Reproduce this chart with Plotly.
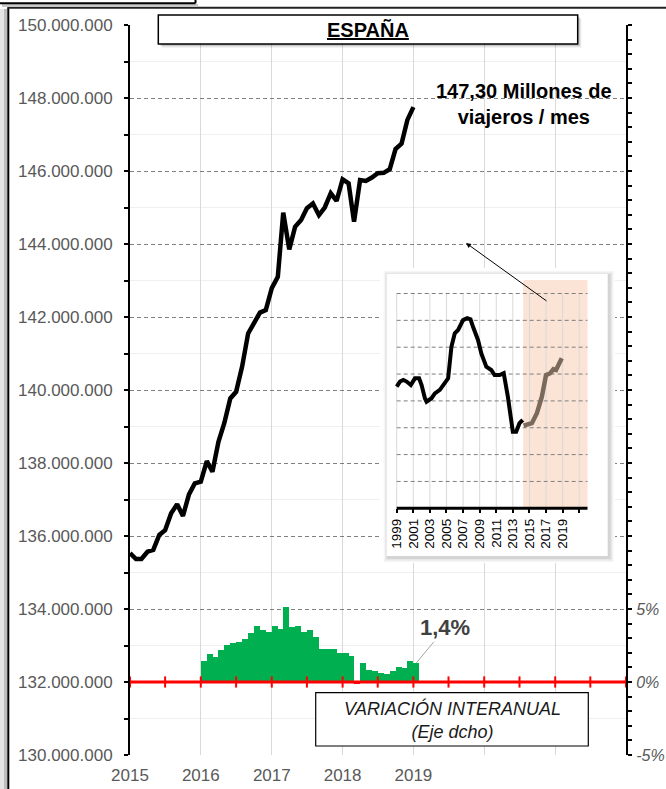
import plotly.graph_objects as go
import pandas as pd

# ------------------------------------------------------------------ data
MONTHS_LINE = pd.date_range("2015-01-01", "2019-01-01", freq="MS").strftime("%Y-%m-%d").tolist()
VIAJEROS_MILLONES = [
    135.53, 135.37, 135.37, 135.57, 135.62, 136.03, 136.16, 136.62, 136.87, 136.55, 137.14, 137.44,
    137.49, 138.05, 137.76, 138.58, 139.09, 139.77, 139.95, 140.64, 141.55, 141.83, 142.12, 142.19,
    142.79, 143.10, 144.86, 143.85, 144.47, 144.66, 144.98, 145.11, 144.79, 145.00, 145.39, 145.18,
    145.77, 145.66, 144.61, 145.75, 145.73, 145.82, 145.94, 145.95, 146.05, 146.60, 146.75, 147.40,
    147.75,
]

MONTHS_BARS = pd.date_range("2016-01-01", "2019-01-01", freq="MS").strftime("%Y-%m-%d").tolist()
VARIACION_PCT = [
    1.43, 1.95, 1.70, 2.18, 2.53, 2.69, 2.71, 2.92, 3.38, 3.84, 3.56, 3.45,
    3.84, 3.63, 5.13, 3.75, 3.84, 3.45, 3.56, 3.10, 2.23, 2.23, 2.23, 2.02,
    2.02, 1.77, -0.17, 1.29, 0.80, 0.76, 0.64, 0.53, 0.78, 1.06, 0.97, 1.47,
    1.31,
]

X_TICK_DATES = ["2015-01-01", "2016-01-01", "2017-01-01", "2018-01-01", "2019-01-01",
                "2020-01-01", "2021-01-01", "2022-01-01"]
X_TICK_LABELS = ["2015", "2016", "2017", "2018", "2019", "", "", ""]

Y_TICK_VALUES = [130, 132, 134, 136, 138, 140, 142, 144, 146, 148, 150]
Y_TICK_LABELS = ["130.000.000", "132.000.000", "134.000.000", "136.000.000", "138.000.000",
                 "140.000.000", "142.000.000", "144.000.000", "146.000.000", "148.000.000",
                 "150.000.000"]
Y_MINOR_TICK_VALUES = [131, 133, 135, 137, 139, 141, 143, 145, 147, 149]

Y2_TICK_VALUES = [-5, 0, 5]
Y2_TICK_LABELS = ["-5%", "0%", "5%"]

ZERO_LINE_DATES = ["2015-01-01", "2015-07-01", "2016-01-01", "2016-07-01", "2017-01-01",
                   "2017-07-01", "2018-01-01", "2018-07-01", "2019-01-01", "2019-07-01",
                   "2020-01-01", "2020-07-01", "2021-01-01", "2021-07-01", "2022-01-01"]
ZERO_LINE_VALUES = [0] * len(ZERO_LINE_DATES)

# inset (long series, arbitrary units)
INSET_HIST_YEARS = [1999.0, 1999.4, 1999.8, 2000.2, 2000.7, 2001.2, 2001.7, 2002.0, 2002.4, 2002.6,
                    2003.2, 2003.6, 2004.2, 2004.6, 2005.2, 2005.6, 2006.0, 2006.4, 2007.0, 2007.5,
                    2007.9, 2008.2, 2008.8, 2009.2, 2009.8, 2010.4, 2010.8, 2011.4, 2011.9, 2012.4,
                    2012.8, 2013.0, 2013.4, 2013.8, 2014.2]
INSET_HIST_LEVEL = [4.53, 4.72, 4.78, 4.72, 4.59, 4.84, 4.84, 4.59, 4.10, 3.97,
                    4.10, 4.28, 4.41, 4.59, 4.84, 6.02, 6.52, 6.64, 7.01, 7.08,
                    7.04, 6.76, 6.27, 5.77, 5.27, 5.15, 4.96, 4.96, 5.03, 4.16,
                    3.17, 2.85, 2.85, 3.17, 3.29]
INSET_RECENT_YEARS = [2014.3, 2014.7, 2015.3, 2015.9, 2016.5, 2017.0, 2017.5, 2017.9, 2018.2,
                      2018.5, 2018.9]
INSET_RECENT_LEVEL = [3.08, 3.10, 3.17, 3.54, 4.16, 4.96, 5.03, 5.18, 5.15, 5.34, 5.59]
INSET_TICK_YEARS = [1999, 2001, 2003, 2005, 2007, 2009, 2011, 2013, 2015, 2017, 2019, 2021]
INSET_TICK_LABELS = ["1999", "2001", "2003", "2005", "2007", "2009", "2011", "2013", "2015",
                     "2017", "2019", ""]
INSET_GRID_LEVELS = [1, 2, 3, 4, 5, 6, 7, 8]
INSET_SHADE_FROM = 2014.25
INSET_YEAR_RANGE = [1999, 2022]

# ------------------------------------------------------------------ geometry helpers
W, H = 666, 789
ML, MR, MT, MB = 130, 40, 25, 34
PW, PH = W - ML - MR, H - MT - MB


def px(x):
    return (x - ML) / PW


def py(y):
    return (H - MB - y) / PH


# inset pixel geometry
IN_X0, IN_X1 = 396.7, 587.5          # pixel of 1999 and 2022
IN_Y0, IN_LV = 508.3, 26.85          # pixel of level 0, pixels per level


def ix(x):
    return INSET_YEAR_RANGE[0] + (x - IN_X0) * (INSET_YEAR_RANGE[1] - INSET_YEAR_RANGE[0]) / (IN_X1 - IN_X0)


def iy(y):
    return (IN_Y0 - y) / IN_LV


IN_DOM = (380, 268, 615, 563)        # left, top, right, bottom (pixels)
IN_BOX = (386.7, 274, 607.7, 556)

FONT = "Liberation Sans, Arial, sans-serif"
GRAY_TXT = "#595959"
GREEN = "#00B050"
RED = "#FF0000"
MONTH_MS = 31 * 24 * 3600 * 1000

fig = go.Figure()

bar_colors = [GREEN if v >= 0 else RED for v in VARIACION_PCT]
fig.add_trace(go.Bar(
    x=MONTHS_BARS, y=VARIACION_PCT, yaxis="y2", xaxis="x",
    xperiod="M1", xperiodalignment="middle", width=MONTH_MS,
    marker=dict(color=bar_colors, line=dict(width=0)),
    hoverinfo="skip",
))
fig.add_trace(go.Scatter(
    x=ZERO_LINE_DATES, y=ZERO_LINE_VALUES, yaxis="y2", xaxis="x",
    mode="lines+markers", cliponaxis=False,
    line=dict(color=RED, width=3),
    marker=dict(symbol="line-ns", size=8, color=RED, line=dict(color=RED, width=2)),
    hoverinfo="skip",
))
fig.add_trace(go.Scatter(
    x=MONTHS_LINE, y=VIAJEROS_MILLONES, yaxis="y", xaxis="x",
    mode="lines", line=dict(color="black", width=4.5),
))
fig.add_trace(go.Scatter(
    x=INSET_HIST_YEARS, y=INSET_HIST_LEVEL, xaxis="x2", yaxis="y5",
    mode="lines", line=dict(color="black", width=4),
))
fig.add_trace(go.Scatter(
    x=INSET_RECENT_YEARS, y=INSET_RECENT_LEVEL, xaxis="x2", yaxis="y5",
    mode="lines", line=dict(color="#7B6A5C", width=4.5),
))

shapes = []
# outer frame pieces (paper, below everything)
shapes += [
    dict(type="rect", xref="paper", yref="paper", x0=px(0), x1=px(4), y0=py(800), y1=py(9),
         fillcolor="#E4E4E4", line=dict(width=0), layer="below"),
    dict(type="rect", xref="paper", yref="paper", x0=px(4), x1=px(7.3), y0=py(800), y1=py(9),
         fillcolor="#BDBDBD", line=dict(width=0), layer="below"),
    dict(type="line", xref="paper", yref="paper", x0=px(8.3), x1=px(8.3), y0=py(800), y1=py(7.5),
         line=dict(color="black", width=2), layer="below"),
    dict(type="line", xref="paper", yref="paper", x0=px(7.5), x1=px(700), y0=py(7.7), y1=py(7.7),
         line=dict(color="#222222", width=2), layer="below"),
    dict(type="rect", xref="paper", yref="paper", x0=px(2), x1=px(198), y0=py(7), y1=py(4),
         fillcolor="#C8C8C8", line=dict(width=0), layer="below"),
    dict(type="line", xref="paper", yref="paper", x0=px(-2), x1=px(195.5), y0=py(3.3), y1=py(3.3),
         line=dict(color="black", width=2), layer="below"),
    dict(type="line", xref="paper", yref="paper", x0=px(195.5), x1=px(195.5), y0=py(-5), y1=py(3.3),
         line=dict(color="black", width=2), layer="below"),
]

# inset box with soft shadow (in inset axes, drawn above the main subplot)
L0, T0, R0, B0 = IN_BOX
for e, a in [(4.5, 0.04), (3, 0.06), (1.5, 0.08)]:
    shapes.append(dict(type="rect", xref="x2", yref="y5", layer="below",
                       x0=ix(L0 - e + 1.5), x1=ix(R0 + e + 1.5), y0=iy(B0 + e + 1.5), y1=iy(T0 - e + 1.5),
                       fillcolor=f"rgba(0,0,0,{a})", line=dict(width=0)))
shapes.append(dict(type="rect", xref="x2", yref="y5", layer="below",
                   x0=ix(L0), x1=ix(R0), y0=iy(B0), y1=iy(T0),
                   fillcolor="white", line=dict(width=0)))
shapes.append(dict(type="rect", xref="x2", yref="y5", layer="below",
                   x0=INSET_SHADE_FROM, x1=INSET_YEAR_RANGE[1], y0=0, y1=iy(280),
                   fillcolor="#FBE4D5", line=dict(width=0)))
for yr in INSET_TICK_YEARS:
    shapes.append(dict(type="line", xref="x2", yref="y5", layer="below",
                       x0=yr, x1=yr, y0=0, y1=INSET_GRID_LEVELS[-1],
                       line=dict(color="#D9D9D9", width=1)))
for lv in INSET_GRID_LEVELS:
    shapes.append(dict(type="line", xref="x2", yref="y5", layer="below",
                       x0=INSET_YEAR_RANGE[0], x1=INSET_YEAR_RANGE[1], y0=lv, y1=lv,
                       line=dict(color="#7F7F7F", width=1, dash="4px,3px")))
shapes.append(dict(type="line", xref="x2", yref="y5", layer="below",
                   x0=INSET_YEAR_RANGE[0], x1=INSET_YEAR_RANGE[1], y0=0, y1=0,
                   line=dict(color="black", width=3)))

# title box (above)
for e, a in [(3.5, 0.10), (2, 0.14)]:
    shapes.append(dict(type="rect", xref="paper", yref="paper", layer="above",
                       x0=px(158.3 + e), x1=px(577.7 + e), y0=py(44 + e), y1=py(15 + e),
                       fillcolor=f"rgba(0,0,0,{a})", line=dict(width=0)))
shapes.append(dict(type="rect", xref="paper", yref="paper", layer="above",
                   x0=px(158.3), x1=px(577.7), y0=py(44), y1=py(15),
                   fillcolor="white", line=dict(color="black", width=1.5)))
# variation box
shapes.append(dict(type="rect", xref="paper", yref="paper", layer="above",
                   x0=px(315.7), x1=px(588.3), y0=py(746), y1=py(692.7),
                   fillcolor="white", line=dict(color="black", width=1.2)))

annotations = [
    dict(xref="paper", yref="paper", x=px(368.3), y=py(30), xanchor="center", yanchor="middle",
         text="<b><u>ESPAÑA</u></b>", showarrow=False, font=dict(size=20, color="black", family=FONT)),
    dict(xref="paper", yref="paper", x=px(524), y=py(104), xanchor="center", yanchor="middle",
         text="<b>147,30 Millones de<br>viajeros / mes</b>", showarrow=False, align="center",
         font=dict(size=20, color="black", family=FONT)),
    dict(xref="paper", yref="paper", x=px(466), y=py(243), ax=82, ay=59, text="",
         showarrow=True, arrowhead=2, arrowsize=1, arrowwidth=1, arrowcolor="black"),
    dict(xref="x", yref="y2", x=MONTHS_BARS[-1], y=VARIACION_PCT[-1], xshift=3,
         text="<b>1,4%</b>", showarrow=True, arrowhead=0, arrowwidth=1, arrowcolor="#A6A6A6",
         ax=29, ay=-35, font=dict(size=22, color="#404040", family=FONT)),
    dict(xref="paper", yref="paper", x=px(452), y=py(720), xanchor="center", yanchor="middle",
         text="<i>VARIACIÓN INTERANUAL</i><br><i>(Eje dcho)</i>", showarrow=False, align="center",
         font=dict(size=18, color="#1A1A1A", family=FONT)),
]

fig.update_layout(
    width=W, height=H, autosize=False,
    margin=dict(l=ML, r=MR, t=MT, b=MB, pad=0, autoexpand=False),
    paper_bgcolor="white", plot_bgcolor="white",
    showlegend=False, bargap=0,
    font=dict(family=FONT, size=17, color=GRAY_TXT),
    shapes=shapes, annotations=annotations,
    xaxis=dict(
        type="date", range=[X_TICK_DATES[0], X_TICK_DATES[-1]], domain=[0, 1], anchor="y",
        tickmode="array", tickvals=X_TICK_DATES, ticktext=X_TICK_LABELS, automargin=False,
        showgrid=True, gridcolor="#D9D9D9", gridwidth=1, ticks="", showline=False, zeroline=False,
        tickfont=dict(size=17, color=GRAY_TXT), ticklabelstandoff=8,
    ),
    yaxis=dict(
        range=[Y_TICK_VALUES[0], Y_TICK_VALUES[-1]], domain=[0, 1], anchor="x", automargin=False,
        tickmode="array", tickvals=Y_TICK_VALUES, ticktext=Y_TICK_LABELS,
        ticks="outside", ticklen=4, tickwidth=1.5, tickcolor="black",
        showline=True, linecolor="black", linewidth=2, zeroline=False,
        showgrid=True, gridcolor="#808080", gridwidth=1, griddash="4px,3px",
        minor=dict(tickmode="array", tickvals=Y_MINOR_TICK_VALUES, ticks="outside", ticklen=4,
                   tickwidth=1.5, tickcolor="black", showgrid=True, gridcolor="#EFEFEF",
                   griddash="solid", gridwidth=1),
        tickfont=dict(size=17, color=GRAY_TXT), ticklabelstandoff=8,
    ),
    yaxis3=dict(
        overlaying="y", side="left", anchor="x", range=[Y_TICK_VALUES[0], Y_TICK_VALUES[-1]],
        tickmode="array", tickvals=sorted(Y_TICK_VALUES + Y_MINOR_TICK_VALUES), automargin=False,
        ticks="inside", ticklen=4, tickwidth=1.5, tickcolor="black",
        showticklabels=False, showgrid=False, zeroline=False, showline=False,
    ),
    yaxis2=dict(
        overlaying="y", side="right", anchor="x", range=[-5, 45], automargin=False,
        tickmode="array", tickvals=Y2_TICK_VALUES, ticktext=Y2_TICK_LABELS,
        ticks="outside", ticklen=4, tickwidth=1.5, tickcolor="black",
        showline=True, linecolor="black", linewidth=2, showgrid=False, zeroline=False,
        minor=dict(tickmode="array", tickvals=[v for v in range(-5, 46) if v not in Y2_TICK_VALUES],
                   ticks="outside", ticklen=4, tickwidth=1.5, tickcolor="black", showgrid=False),
        tickfont=dict(size=16, color=GRAY_TXT, style="italic"), ticklabelstandoff=1,
    ),
    yaxis4=dict(
        overlaying="y", side="right", anchor="x", range=[-5, 45], automargin=False,
        tickmode="array", tickvals=list(range(-5, 46)),
        ticks="inside", ticklen=4, tickwidth=1.5, tickcolor="black",
        showticklabels=False, showgrid=False, zeroline=False, showline=False,
    ),
    xaxis2=dict(
        domain=[px(IN_DOM[0]), px(IN_DOM[2])], range=[ix(IN_DOM[0]), ix(IN_DOM[2])],
        anchor="free", position=py(IN_Y0), automargin=False,
        tickmode="array", tickvals=INSET_TICK_YEARS, ticktext=INSET_TICK_LABELS,
        ticks="outside", ticklen=4, tickwidth=2, tickcolor="black", tickangle=-90,
        showgrid=False, showline=False, zeroline=False,
        tickfont=dict(size=13.5, color="black"),
    ),
    yaxis5=dict(
        domain=[py(IN_DOM[3]), py(IN_DOM[1])], range=[iy(IN_DOM[3]), iy(IN_DOM[1])],
        anchor="x2", visible=False, automargin=False,
    ),
)

fig.write_html(
    "out.html",
    config={"displayModeBar": False},
    post_script="document.body.style.margin='0';document.body.style.overflow='hidden';",
)
